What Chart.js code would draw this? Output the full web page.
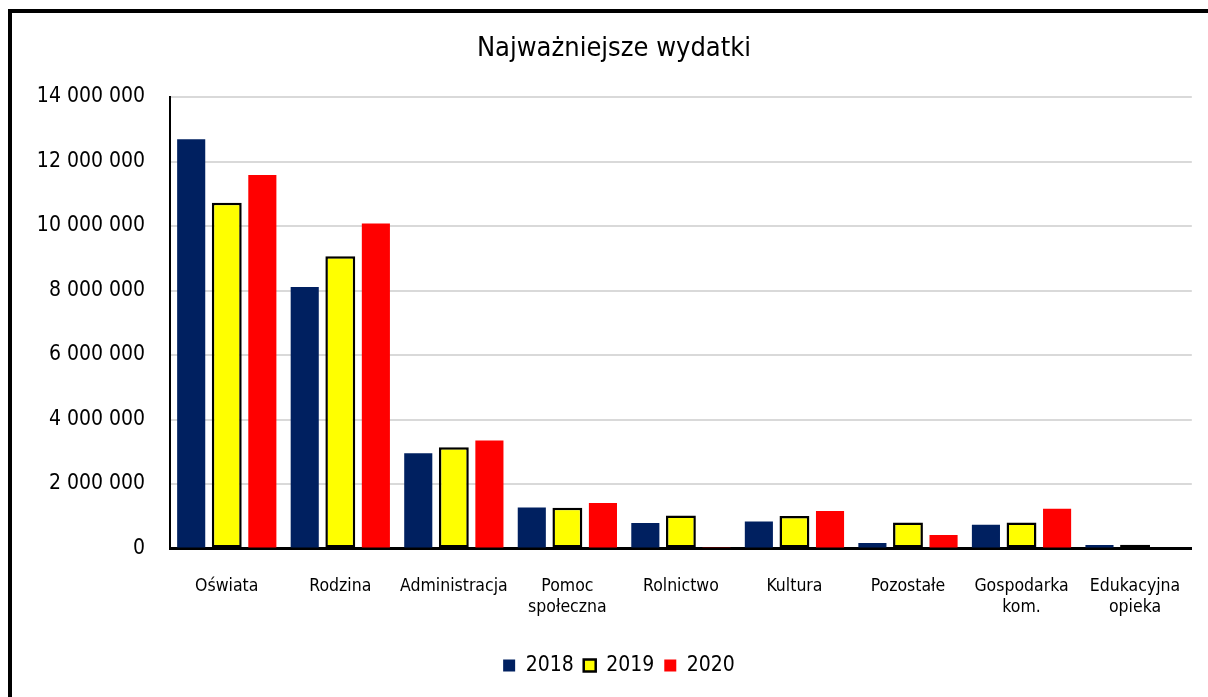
<!DOCTYPE html>
<html>
<head>
<meta charset="utf-8">
<script src="https://cdn.jsdelivr.net/npm/chart.js@4"></script>
<style>
  html, body { margin: 0; padding: 0; background: #fff; overflow: hidden; }
  #wrap { position: relative; width: 1208px; height: 697px; }
  #c { position: absolute; left: 0; top: 0; }
  #frame { position: absolute; left: 8px; top: 9px; width: 1400px; height: 900px;
           border-left: 4px solid #000; border-top: 4px solid #000; pointer-events: none; }
</style>
</head>
<body>
<div id="wrap">
  <canvas id="c" width="1208" height="697"></canvas>
  <div id="frame"></div>
</div>
<script>
const categories = ["Oświata", "Rodzina", "Administracja", ["Pomoc", "społeczna"], "Rolnictwo", "Kultura", "Pozostałe", ["Gospodarka", "kom."], ["Edukacyjna", "opieka"]];
const seriesNames = ["2018", "2019", "2020"];
const values2018 = [12690000, 8110000, 2950000, 1270000, 790000, 840000, 170000, 740000, 110000];
const values2019 = [10720000, 9060000, 3140000, 1260000, 1020000, 1010000, 810000, 810000, 120000];
const values2020 = [11580000, 10080000, 3350000, 1410000, 20000, 1160000, 420000, 1230000, 30000];
const yTickMax = 14000000;
const yTickStep = 2000000;
const titleText = "Najważniejsze wydatki";

const FONT = "'DejaVu Sans Condensed', 'Liberation Sans', sans-serif";
const fmt = v => String(v).replace(/\B(?=(\d{3})+(?!\d))/g, ' ');

const shiftBoxes = {
  id: 'shiftBoxes',
  afterLayout(chart) {
    if (chart.titleBlock) { chart.titleBlock.left += 17; chart.titleBlock.right += 17; }
    if (chart.legend) { chart.legend.left += 22; chart.legend.right += 22; }
  }
};

new Chart(document.getElementById('c'), {
  type: 'bar',
  plugins: [shiftBoxes],
  data: {
    labels: categories,
    datasets: [
      { label: seriesNames[0], data: values2018, backgroundColor: '#002060', borderColor: '#002060', borderWidth: 0,
        barPercentage: 0.79, categoryPercentage: 0.94 },
      { label: seriesNames[1], data: values2019, backgroundColor: '#FFFF00', borderColor: '#000000', borderWidth: 2.5,
        borderSkipped: false, barPercentage: 0.84, categoryPercentage: 0.94 },
      { label: seriesNames[2], data: values2020, backgroundColor: '#FF0000', borderColor: '#FF0000', borderWidth: 0,
        barPercentage: 0.79, categoryPercentage: 0.94 }
    ]
  },
  options: {
    responsive: false,
    animation: false,
    devicePixelRatio: 1,
    layout: { padding: { left: 0, right: 14, top: 0, bottom: 11 } },
    plugins: {
      title: {
        display: true, text: titleText, color: '#000',
        font: { family: FONT, size: 27, weight: 'normal' },
        padding: { top: 33, bottom: 31.6 }
      },
      legend: {
        position: 'bottom',
        labels: {
          color: '#000', font: { family: FONT, size: 21 },
          boxWidth: 12, boxHeight: 12, padding: 10
        }
      },
      tooltip: { enabled: false }
    },
    scales: {
      x: {
        grid: { display: false, drawTicks: false },
        border: { display: true, color: '#000', width: 3 },
        ticks: { color: '#000', font: { family: FONT, size: 17.5, lineHeight: 1.2 }, padding: 27, maxRotation: 0, autoSkip: false },
        afterFit: s => { s.height = 96.5; }
      },
      y: {
        min: 0, max: yTickMax,
        grid: { color: '#d9d9d9', lineWidth: 2, drawTicks: false },
        border: { display: true, color: '#000', width: 2 },
        ticks: { stepSize: yTickStep, color: '#000', font: { family: FONT, size: 21 }, padding: 25,
                 callback: v => fmt(v) },
        afterFit: s => { s.width = 170; }
      }
    }
  }
});
</script>
</body>
</html>
